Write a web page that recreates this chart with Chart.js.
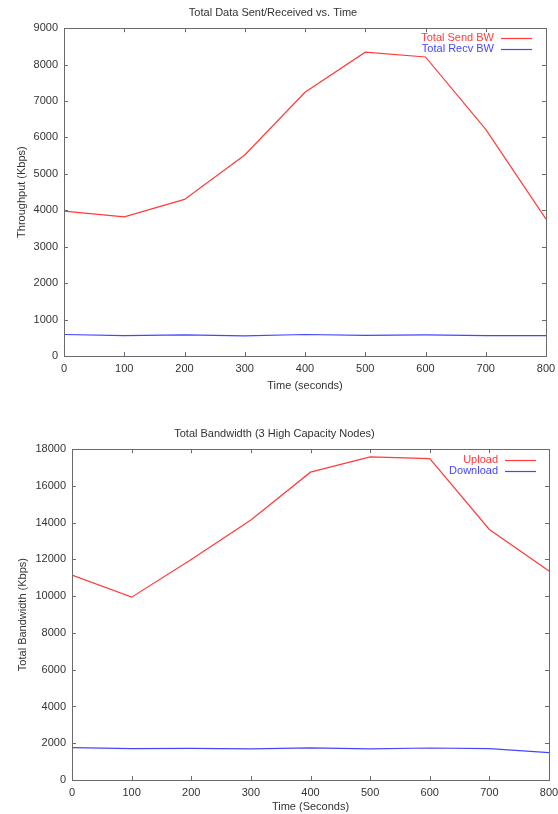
<!DOCTYPE html>
<html>
<head>
<meta charset="utf-8">
<script src="https://cdn.jsdelivr.net/npm/chart.js@4/dist/chart.umd.min.js"></script>
<style>
  html, body { margin: 0; padding: 0; background: #fff; }
  .panel { position: absolute; left: 0; width: 558px; }
  #p1 { top: 0; height: 400px; }
  #p2 { top: 400px; height: 414px; }
</style>
</head>
<body>
<div class="panel" id="p1"><canvas id="c1"></canvas></div>
<div class="panel" id="p2"><canvas id="c2"></canvas></div>
<script>
// Sample times (seconds)
const timeSec = [0, 100, 200, 300, 400, 500, 600, 700, 800];

// Top panel: total data sent / received (Kbps)
const sendBW = [3980, 3820, 4300, 5520, 7240, 8340, 8210, 6220, 3760];
const recvBW = [590, 560, 580, 555, 590, 565, 580, 560, 560];

// Bottom panel: total bandwidth of the 3 high-capacity nodes (Kbps)
const uploadBW = [11150, 9950, 12000, 14150, 16750, 17580, 17490, 13630, 11370];
const downloadBW = [1760, 1710, 1720, 1690, 1750, 1690, 1740, 1710, 1490];

const FONT = "'Liberation Sans', Arial, Helvetica, sans-serif";
const TEXT = '#333333';
const RED = '#ff3b3b';
const BLUE = '#4646ff';

const toPoints = (xs, ys) => xs.map((x, i) => ({ x, y: ys[i] }));
const plain = v => String(v);

// Gnuplot-style frame: full border and inward tick marks on all four sides
const framePlugin = {
  id: 'frame',
  afterDatasetsDraw(chart) {
    const { ctx, chartArea: a, scales } = chart;
    const len = 4;
    ctx.save();
    ctx.strokeStyle = '#6a6a6a';
    ctx.lineWidth = 1;
    ctx.beginPath();
    scales.x.ticks.forEach(t => {
      const px = Math.round(scales.x.getPixelForValue(t.value)) + 0.5;
      ctx.moveTo(px, a.bottom); ctx.lineTo(px, a.bottom - len);
      ctx.moveTo(px, a.top); ctx.lineTo(px, a.top + len);
    });
    scales.y.ticks.forEach(t => {
      const py = Math.round(scales.y.getPixelForValue(t.value)) + 0.5;
      ctx.moveTo(a.left, py); ctx.lineTo(a.left + len, py);
      ctx.moveTo(a.right, py); ctx.lineTo(a.right - len, py);
    });
    ctx.stroke();
    ctx.strokeRect(Math.round(a.left) + 0.5, Math.round(a.top) + 0.5,
                   Math.round(a.right - a.left), Math.round(a.bottom - a.top));
    ctx.restore();
  }
};

// Key in the top-right corner: label text right-aligned, then a line sample
const keyPlugin = {
  id: 'key',
  afterDatasetsDraw(chart, args, opts) {
    const { ctx, chartArea: a } = chart;
    ctx.save();
    ctx.font = '11px ' + FONT;
    ctx.textAlign = 'right';
    ctx.textBaseline = 'middle';
    chart.data.datasets.forEach((ds, i) => {
      const y = a.top + opts.firstRow + i * opts.rowGap;
      ctx.fillStyle = ds.borderColor;
      ctx.fillText(ds.label, a.right - opts.textRight, y);
      ctx.strokeStyle = ds.borderColor;
      ctx.lineWidth = 1.2;
      ctx.beginPath();
      ctx.moveTo(a.right - opts.lineStart, Math.round(y) + 0.5);
      ctx.lineTo(a.right - opts.lineEnd, Math.round(y) + 0.5);
      ctx.stroke();
    });
    ctx.restore();
  }
};

function makeChart(canvasId, cfg) {
  return new Chart(document.getElementById(canvasId), {
    type: 'line',
    data: {
      datasets: [
        { label: cfg.names[0], data: toPoints(timeSec, cfg.series[0]),
          borderColor: RED, borderWidth: 1.2, pointRadius: 0, tension: 0, fill: false },
        { label: cfg.names[1], data: toPoints(timeSec, cfg.series[1]),
          borderColor: BLUE, borderWidth: 1.2, pointRadius: 0, tension: 0, fill: false }
      ]
    },
    options: {
      responsive: true,
      maintainAspectRatio: false,
      animation: false,
      layout: { padding: { left: 0, right: cfg.padRight, top: 0, bottom: 0 } },
      plugins: {
        legend: { display: false },
        tooltip: { enabled: false },
        title: {
          display: true,
          text: cfg.title,
          color: TEXT,
          font: { family: FONT, size: 11, weight: 'normal' },
          padding: cfg.titlePad
        },
        key: cfg.key
      },
      scales: {
        x: {
          type: 'linear',
          min: 0, max: 800,
          grid: { display: false, drawTicks: false },
          border: { display: false },
          ticks: { stepSize: 100, color: TEXT, padding: 6, callback: plain,
                   font: { family: FONT, size: 11 }, maxRotation: 0 },
          title: { display: true, text: cfg.xTitle, color: TEXT,
                   font: { family: FONT, size: 11 }, padding: cfg.xTitlePad },
          afterFit: s => { s.height = cfg.xHeight; s.paddingLeft = 0; s.paddingRight = 0; }
        },
        y: {
          min: 0, max: cfg.yMax,
          grid: { display: false, drawTicks: false },
          border: { display: false },
          ticks: { stepSize: cfg.yStep, color: TEXT, padding: 6, callback: plain,
                   font: { family: FONT, size: 11 } },
          title: { display: true, text: cfg.yTitle, color: TEXT,
                   font: { family: FONT, size: 11 }, padding: cfg.yTitlePad },
          afterFit: s => { s.width = cfg.yWidth; s.paddingTop = 0; s.paddingBottom = 0; }
        }
      }
    },
    plugins: [framePlugin, keyPlugin]
  });
}

makeChart('c1', {
  title: 'Total Data Sent/Received vs. Time',
  names: ['Total Send BW', 'Total Recv BW'],
  series: [sendBW, recvBW],
  xTitle: 'Time (seconds)',
  yTitle: 'Throughput (Kbps)',
  yMax: 9000, yStep: 1000,
  titlePad: { top: 6, bottom: 9 },
  xTitlePad: { top: 0, bottom: 7 },
  yTitlePad: { top: 15, bottom: 0 },
  xHeight: 44, yWidth: 64, padRight: 12,
  key: { firstRow: 9.5, rowGap: 11.7, textRight: 52, lineStart: 45, lineEnd: 14 }
});

makeChart('c2', {
  title: 'Total Bandwidth (3 High Capacity Nodes)',
  names: ['Upload', 'Download'],
  series: [uploadBW, downloadBW],
  xTitle: 'Time (Seconds)',
  yTitle: 'Total Bandwidth (Kbps)',
  yMax: 18000, yStep: 2000,
  titlePad: { top: 27, bottom: 9 },
  xTitlePad: { top: 0, bottom: 0 },
  yTitlePad: { top: 16, bottom: 0 },
  xHeight: 34, yWidth: 72, padRight: 9,
  key: { firstRow: 10.5, rowGap: 10.8, textRight: 51, lineStart: 44, lineEnd: 13 }
});
</script>
</body>
</html>
